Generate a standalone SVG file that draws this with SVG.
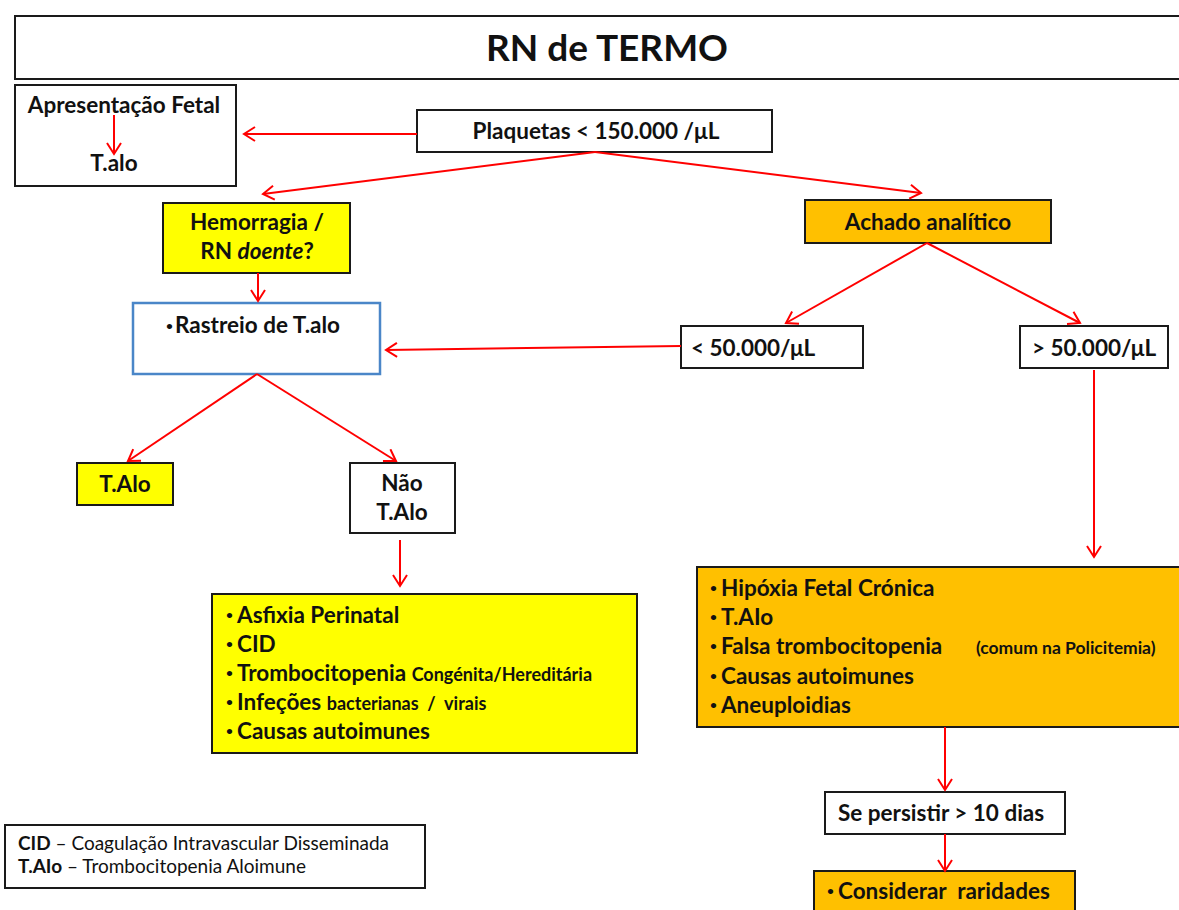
<svg xmlns="http://www.w3.org/2000/svg" width="1179" height="910" viewBox="0 0 1179 910">
<defs>
<marker id="arr" markerUnits="userSpaceOnUse" markerWidth="16" markerHeight="16" viewBox="0 0 16 16" refX="14" refY="8" orient="auto">
<path d="M3,1 L14,8 L3,15" fill="none" stroke="#FF0000" stroke-width="2"/>
</marker>
<style>
.box{stroke:#1a1a1a;stroke-width:2;fill:#ffffff}
.yel{fill:#FFFF00}
.org{fill:#FFC000}
.t{font-family:Lato,"Open Sans",sans-serif;font-weight:bold;fill:#111;font-size:22.5px}
.c{text-anchor:middle}
.n{font-weight:normal}
.b{font-size:12px}
.s{font-size:18px}
.con line{stroke:#FF0000;stroke-width:2;marker-end:url(#arr)}
</style>
</defs>
<rect width="1179" height="910" fill="#ffffff"/>

<g id="title">
<rect class="box" x="15" y="16" width="1175" height="63"/>
<text class="t c" x="607" y="61" style="font-size:37px">RN de TERMO</text>
</g>

<g id="apresentacao">
<rect class="box" x="15" y="85" width="221" height="101"/>
<text class="t c" x="124" y="113">Apresentação Fetal</text>
<text class="t c" x="114" y="171">T.alo</text>
</g>

<g id="plaquetas">
<rect class="box" x="417" y="110" width="355" height="42"/>
<text class="t c" x="596" y="139">Plaquetas &lt; 150.000 /μL</text>
</g>

<g id="hemorragia">
<rect class="box yel" x="163" y="203" width="187" height="70"/>
<text class="t c" x="257" y="230">Hemorragia /</text>
<text class="t c" x="257" y="259">RN <tspan font-style="italic">doente</tspan>?</text>
</g>

<g id="rastreio">
<rect x="133" y="303" width="247" height="71" fill="#ffffff" stroke="#4A86C8" stroke-width="2.5"/>
<text class="t" x="166" y="333"><tspan class="b" dy="-3">•</tspan><tspan x="175" dy="3">Rastreio de T.alo</tspan></text>
</g>

<g id="achado">
<rect class="box org" x="805" y="200" width="246" height="43"/>
<text class="t c" x="928" y="230">Achado analítico</text>
</g>

<g id="menor50">
<rect class="box" x="681" y="326" width="182" height="42"/>
<text class="t" x="691" y="356">&lt; 50.000/μL</text>
</g>

<g id="maior50">
<rect class="box" x="1020" y="326" width="148" height="42"/>
<text class="t c" x="1094" y="356">&gt; 50.000/μL</text>
</g>

<g id="talo">
<rect class="box yel" x="77" y="463" width="96" height="42"/>
<text class="t c" x="125" y="492">T.Alo</text>
</g>

<g id="naotalo">
<rect class="box" x="350" y="463" width="105" height="70"/>
<text class="t c" x="402" y="491">Não</text>
<text class="t c" x="402" y="520">T.Alo</text>
</g>

<g id="causas-left">
<rect class="box yel" x="212" y="594" width="425" height="159"/>
<text class="t" x="226" y="623"><tspan class="b" dy="-4">•</tspan><tspan x="237" dy="4">Asfixia Perinatal</tspan></text>
<text class="t" x="226" y="652"><tspan class="b" dy="-4">•</tspan><tspan x="237" dy="4">CID</tspan></text>
<text class="t" x="226" y="681"><tspan class="b" dy="-4">•</tspan><tspan x="237" dy="4">Trombocitopenia </tspan><tspan class="s">Congénita/Hereditária</tspan></text>
<text class="t" x="226" y="710" xml:space="preserve"><tspan class="b" dy="-4">•</tspan><tspan x="237" dy="4">Infeções </tspan><tspan class="s">bacterianas  /  virais</tspan></text>
<text class="t" x="226" y="739"><tspan class="b" dy="-4">•</tspan><tspan x="237" dy="4">Causas autoimunes</tspan></text>
</g>

<g id="causas-right">
<rect class="box org" x="697" y="567" width="495" height="160"/>
<text class="t" x="710" y="596"><tspan class="b" dy="-4">•</tspan><tspan x="721" dy="4">Hipóxia Fetal Crónica</tspan></text>
<text class="t" x="710" y="625"><tspan class="b" dy="-4">•</tspan><tspan x="721" dy="4">T.AIo</tspan></text>
<text class="t" x="710" y="654"><tspan class="b" dy="-4">•</tspan><tspan x="721" dy="4">Falsa trombocitopenia</tspan></text>
<text class="t" x="976" y="654" style="font-size:17.5px">(comum na Policitemia)</text>
<text class="t" x="710" y="684"><tspan class="b" dy="-4">•</tspan><tspan x="721" dy="4">Causas autoimunes</tspan></text>
<text class="t" x="710" y="713"><tspan class="b" dy="-4">•</tspan><tspan x="721" dy="4">Aneuploidias</tspan></text>
</g>

<g id="persistir">
<rect class="box" x="825" y="792" width="240" height="42"/>
<text class="t" x="838" y="821">Se persistir &gt; 10 dias</text>
</g>

<g id="raridades">
<rect class="box org" x="814" y="871" width="261" height="50"/>
<text class="t" x="827" y="899" xml:space="preserve"><tspan class="b" dy="-4">•</tspan><tspan x="838" dy="4">Considerar  raridades</tspan></text>
</g>

<g id="legenda">
<rect class="box" x="5" y="825" width="420" height="63"/>
<text class="t n" x="18" y="850" style="font-size:19px"><tspan font-weight="bold">CID</tspan> – Coagulação Intravascular Disseminada</text>
<text class="t n" x="18" y="873" style="font-size:19px"><tspan font-weight="bold">T.AIo</tspan> – Trombocitopenia Aloimune</text>
</g>

<g id="connectors" class="con">
<line x1="114" y1="115" x2="114" y2="154"/>
<line x1="417" y1="134" x2="244" y2="134"/>
<line x1="595" y1="152" x2="263" y2="194"/>
<line x1="595" y1="152" x2="921" y2="193"/>
<line x1="258" y1="273" x2="258" y2="301"/>
<line x1="681" y1="346" x2="386" y2="350"/>
<line x1="927" y1="243" x2="786" y2="323"/>
<line x1="927" y1="243" x2="1080" y2="323"/>
<line x1="257" y1="374" x2="128" y2="461"/>
<line x1="257" y1="374" x2="396" y2="461"/>
<line x1="400" y1="540" x2="400" y2="586"/>
<line x1="1094" y1="370" x2="1094" y2="557"/>
<line x1="945" y1="727" x2="945" y2="790"/>
<line x1="945" y1="834" x2="945" y2="871"/>
</g>
</svg>
